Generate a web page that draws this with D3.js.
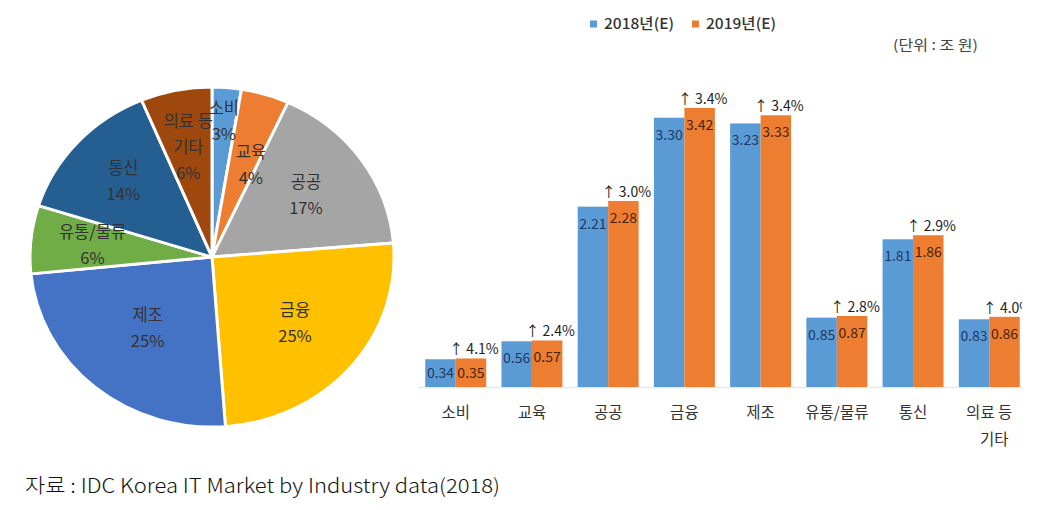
<!DOCTYPE html>
<html>
<head>
<meta charset="utf-8">
<script src="https://cdn.jsdelivr.net/npm/d3@7"></script>
<style>
  html, body { margin: 0; padding: 0; background: #fff; }
  svg { display: block; font-family: "Noto Sans CJK KR", "Noto Sans", sans-serif; }
</style>
</head>
<body>
<svg id="chart" width="1043" height="510"></svg>
<script>
// ---- data ----
const categories = ["소비", "교육", "공공", "금융", "제조", "유통/물류", "통신", "의료 등 기타"];
const values2018 = [0.34, 0.56, 2.21, 3.30, 3.23, 0.85, 1.81, 0.83];
const values2019 = [0.35, 0.57, 2.28, 3.42, 3.33, 0.87, 1.86, 0.86];
const growthLabels = ["4.1%", "2.4%", "3.0%", "3.4%", "3.4%", "2.8%", "2.9%", "4.0%"];
const seriesNames = ["2018년(E)", "2019년(E)"];
const pieLabelLines = [["소비"], ["교육"], ["공공"], ["금융"], ["제조"], ["유통/물류"], ["통신"], ["의료 등", "기타"]];
const axisLabelLines = [["소비"], ["교육"], ["공공"], ["금융"], ["제조"], ["유통/물류"], ["통신"], ["의료 등", "기타"]];
const unitText = "(단위 : 조 원)";
const sourceText = "자료 : IDC Korea IT Market by Industry data(2018)";

// ---- styles ----
const pieColors = ["#5B9BD5", "#ED7D31", "#A5A5A5", "#FFC000", "#4472C4", "#70AD47", "#255E91", "#9E480E"];
const pieLabelRadius = [0.8, 0.58, 0.63, 0.6, 0.55, 0.66, 0.66, 0.66];
const pieLabelAngleShift = [0, 0.08, 0, 0, 0, 0, 0, 0];
const seriesColors = ["#5B9BD5", "#ED7D31"];
const valueTextColors = ["#1F3864", "#4A2406"];

const svg = d3.select("#chart");

// ---- PIE ----
const cx = 212, cy = 257, R = 182, yScaleFactor = 170 / 182;
const pieG = svg.append("g").attr("transform", `translate(${cx},${cy})`);
const shapeG = pieG.append("g").attr("transform", `scale(1,${yScaleFactor})`);
const pie = d3.pie().sort(null).value(d => d)(values2018);
const total = d3.sum(values2018);
const arc = d3.arc().innerRadius(0).outerRadius(R);
shapeG.selectAll("path").data(pie).join("path")
  .attr("d", arc)
  .attr("fill", (d, i) => pieColors[i])
  .attr("stroke", "#fff")
  .attr("stroke-width", 3)
  .attr("stroke-linejoin", "round");

const pctFmt = v => Math.round(v / total * 100) + "%";
pie.forEach((d, i) => {
  const a = (d.startAngle + d.endAngle) / 2 + pieLabelAngleShift[i];
  const r = R * pieLabelRadius[i];
  const x = r * Math.sin(a);
  const y = -r * Math.cos(a) * yScaleFactor;
  const lines = pieLabelLines[i].concat([pctFmt(d.value)]);
  const lh = 26;
  const t = pieG.append("text")
    .attr("text-anchor", "middle")
    .attr("font-size", 16.5)
    .attr("fill", "#333");
  lines.forEach((ln, k) => {
    t.append("tspan")
      .attr("x", x)
      .attr("y", y + (k - (lines.length - 1) / 2) * lh)
      .attr("dy", "0.35em")
      .text(ln);
  });
});

// ---- BAR CHART ----
const baseY = 387;
const yS = d3.scaleLinear().domain([0, 3.5]).range([baseY, baseY - 3.5 * 81.6]);
const x0 = d3.scaleBand().domain(categories).range([410, 1035]).paddingInner(0.2).paddingOuter(0.2);
const x1 = d3.scaleBand().domain(seriesNames).range([0, x0.bandwidth()]);

svg.append("defs").append("clipPath").attr("id", "barclip")
  .append("rect").attr("x", 400).attr("y", 0).attr("width", 622).attr("height", 510);

const barG = svg.append("g").attr("clip-path", "url(#barclip)");

// axis line
barG.append("line")
  .attr("x1", 418).attr("x2", 1035)
  .attr("y1", baseY + 0.5).attr("y2", baseY + 0.5)
  .attr("stroke", "#e8e8e8").attr("stroke-width", 1.5);

const rows = categories.map((c, i) => ({ c, i, vals: [values2018[i], values2019[i]] }));
const grp = barG.selectAll("g.grp").data(rows).join("g")
  .attr("class", "grp")
  .attr("transform", d => `translate(${x0(d.c)},0)`);

grp.selectAll("rect").data(d => d.vals.map((v, s) => ({ v, s }))).join("rect")
  .attr("x", d => x1(seriesNames[d.s]))
  .attr("width", x1.bandwidth())
  .attr("y", d => yS(d.v))
  .attr("height", d => baseY - yS(d.v))
  .attr("fill", d => seriesColors[d.s]);

grp.selectAll("text.val").data(d => d.vals.map((v, s) => ({ v, s }))).join("text")
  .attr("class", "val")
  .attr("x", d => x1(seriesNames[d.s]) + x1.bandwidth() / 2)
  .attr("y", d => Math.min(yS(d.v) + 17, baseY - 14))
  .attr("dy", "0.35em")
  .attr("text-anchor", "middle")
  .attr("font-size", 14)
  .attr("fill", d => valueTextColors[d.s])
  .text(d => d3.format(".2f")(d.v));

grp.append("text")
  .attr("x", x1(seriesNames[1]) + x1.bandwidth() / 2 + 3)
  .attr("y", d => yS(d.vals[1]) - 9)
  .attr("dy", "0.35em")
  .attr("text-anchor", "middle")
  .attr("font-size", 14)
  .attr("fill", "#222")
  .text(d => "↑ " + growthLabels[d.i]);

// category labels
grp.append("text")
  .attr("x", x0.bandwidth() / 2)
  .attr("text-anchor", "middle")
  .attr("font-size", 15.5)
  .attr("fill", "#333")
  .each(function(d) {
    const lines = axisLabelLines[d.i];
    lines.forEach((ln, k) => {
      d3.select(this).append("tspan")
        .attr("x", x0.bandwidth() / 2 + (k > 0 ? 5 : 0))
        .attr("y", 413 + k * 27)
        .attr("dy", "0.35em")
        .text(ln);
    });
  });

// legend
const leg = svg.append("g");
seriesNames.forEach((n, i) => {
  const lx = 590 + i * 102;
  leg.append("rect").attr("x", lx).attr("y", 20.5).attr("width", 7).attr("height", 7).attr("fill", seriesColors[i]);
  leg.append("text").attr("x", lx + 14).attr("y", 24).attr("dy", "0.35em")
    .attr("font-size", 14.5).attr("font-weight", 500).attr("fill", "#333")
    .attr("textLength", 70).attr("lengthAdjust", "spacingAndGlyphs")
    .text(n);
});

svg.append("text").attr("x", 893).attr("y", 45).attr("dy", "0.35em")
  .attr("font-size", 14).attr("fill", "#444")
  .attr("textLength", 85).attr("lengthAdjust", "spacingAndGlyphs")
  .text(unitText);

// source
svg.append("text").attr("x", 25).attr("y", 486).attr("dy", "0.35em")
  .attr("font-size", 20).attr("font-weight", 300).attr("fill", "#111")
  .attr("textLength", 475).attr("lengthAdjust", "spacingAndGlyphs")
  .text(sourceText);
</script>
</body>
</html>
